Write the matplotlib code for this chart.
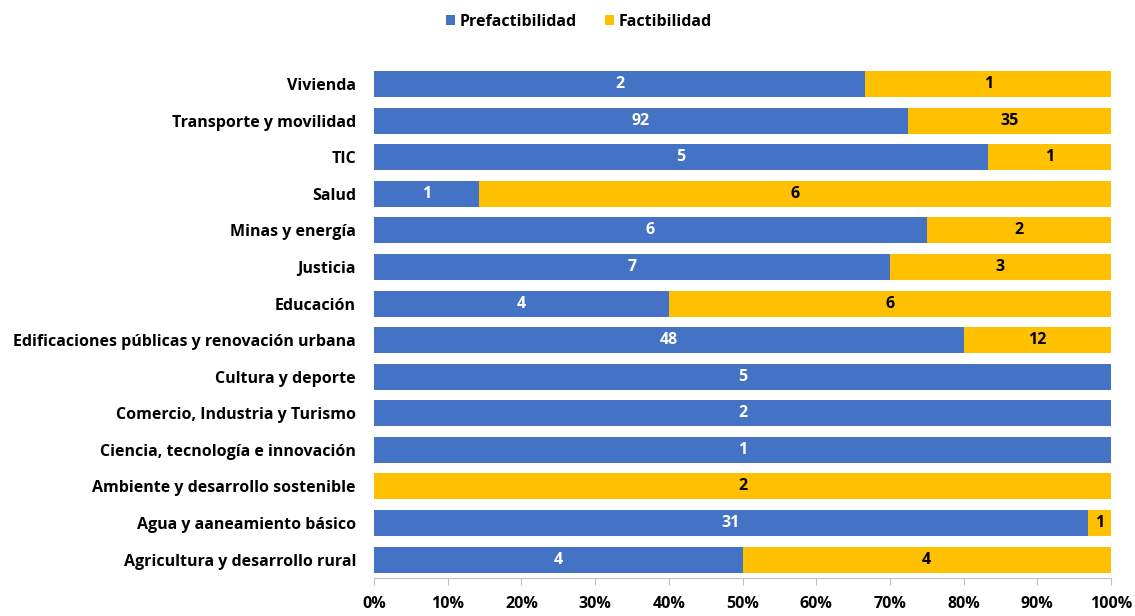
import matplotlib
matplotlib.use("Agg")
import matplotlib.pyplot as plt
import numpy as np
from matplotlib.ticker import PercentFormatter

categories = ["Vivienda", "Transporte y movilidad", "TIC", "Salud", "Minas y energía",
              "Justicia", "Educación", "Edificaciones públicas y renovación urbana",
              "Cultura y deporte", "Comercio, Industria y Turismo",
              "Ciencia, tecnología e innovación", "Ambiente y desarrollo sostenible",
              "Agua y aaneamiento básico", "Agricultura y desarrollo rural"]
prefactibilidad = [2, 92, 5, 1, 6, 7, 4, 48, 5, 2, 1, 0, 31, 4]
factibilidad = [1, 35, 1, 6, 2, 3, 6, 12, 0, 0, 0, 2, 1, 4]
series_names = ["Prefactibilidad", "Factibilidad"]
xticks = [0, 10, 20, 30, 40, 50, 60, 70, 80, 90, 100]

plt.rcParams['font.family'] = ['Open Sans', 'DejaVu Sans']
FS = 11.5

pre = np.array(prefactibilidad, float)
fac = np.array(factibilidad, float)
tot = pre + fac
pre_p = pre / tot * 100
fac_p = fac / tot * 100

fig = plt.figure(figsize=(11.35, 6.16), dpi=100)
ax = fig.add_axes([0.3295, 0.062, 0.6494, 0.831])
y = np.arange(len(categories))
blue = "#4472C4"
yellow = "#FFC000"
b1 = ax.barh(y, pre_p, height=0.71, color=blue, label=series_names[0])
b2 = ax.barh(y, fac_p, left=pre_p, height=0.71, color=yellow, label=series_names[1])

for i in range(len(categories)):
    if pre[i] > 0:
        ax.text(pre_p[i] / 2, y[i], f"{int(pre[i])}", ha="center", va="center",
                color="white", fontsize=FS, fontweight="bold")
    if fac[i] > 0:
        ax.text(pre_p[i] + fac_p[i] / 2, y[i], f"{int(fac[i])}", ha="center", va="center",
                color="black", fontsize=FS, fontweight="bold")

ax.set_ylim(len(categories) - 0.5, -0.5)
ax.set_xlim(0, 100)
ax.set_yticks(y)
ax.set_yticklabels(categories, fontsize=FS, fontweight="bold")
ax.set_xticks(xticks)
ax.xaxis.set_major_formatter(PercentFormatter(decimals=0))
for lbl in ax.get_xticklabels():
    lbl.set_fontweight("bold")
    lbl.set_fontsize(FS)
ax.tick_params(axis="y", length=0, pad=13)
ax.tick_params(axis="x", length=5, color="#BFBFBF", pad=8)
for s in ["top", "right"]:
    ax.spines[s].set_visible(False)
ax.spines["left"].set_visible(False)
ax.spines["bottom"].set_color("#BFBFBF")

fig.legend(handles=[b1, b2], labels=series_names, loc="center", bbox_to_anchor=(0.51, 0.965),
           ncol=2, frameon=False, handlelength=0.55, handleheight=0.55, handletextpad=0.3,
           columnspacing=1.8, prop={"weight": "bold", "size": FS})

fig.savefig("out.png", dpi=100)
